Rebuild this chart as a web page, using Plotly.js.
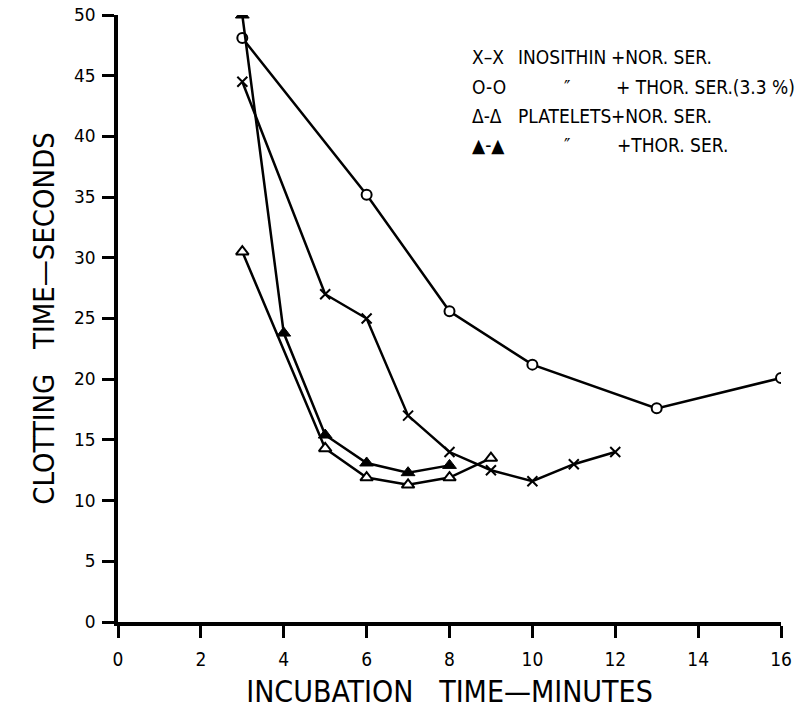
<!DOCTYPE html>
<html>
<head>
<meta charset="utf-8">
<script src="https://cdn.plot.ly/plotly-3.0.1.min.js"></script>
<style>html,body{margin:0;padding:0;background:#fff;}#chart{width:810px;height:709px;}</style>
</head>
<body>
<div id="chart"></div>
<script>
// Incubation time (minutes) and clotting time (seconds)
const inosNorX = [3, 5, 6, 7, 8, 9, 10, 11, 12];
const inosNorY = [44.5, 27, 25, 17, 14, 12.5, 11.6, 13, 14];

const inosThorX = [3, 6, 8, 10, 13, 16];
const inosThorY = [48.1, 35.2, 25.6, 21.2, 17.6, 20.1];

const platNorX = [3, 5, 6, 7, 8, 9];
const platNorY = [30.5, 14.3, 11.9, 11.3, 11.9, 13.5];

const platThorX = [3, 4, 5, 6, 7, 8];
const platThorY = [50, 23.8, 15.4, 13.1, 12.3, 12.9];

const xTicks = [0, 2, 4, 6, 8, 10, 12, 14, 16];
const yTicks = [0, 5, 10, 15, 20, 25, 30, 35, 40, 45, 50];

const legendSymbols = ["X\u2013X", "O-O", "\u0394-\u0394", "\u25B2-\u25B2"];
const legendAgents = ["INOSITHIN", "\u2033", "PLATELETS", "\u2033"];
const legendSera = ["+NOR. SER.", "+ THOR. SER.(3.3 %)", "+NOR. SER.", "+THOR. SER."];

const lineStyle = {color: '#000', width: 2.5};
const font = "'Liberation Sans Narrow', 'DejaVu Sans Condensed', Arial, sans-serif";

const traces = [
  {x: inosThorX, y: inosThorY, mode: 'lines+markers', line: lineStyle,
   marker: {symbol: 'circle', size: 10, color: '#fff', line: {color: '#000', width: 2}}},
  {x: inosNorX, y: inosNorY, mode: 'lines+markers', line: lineStyle,
   marker: {symbol: 'x-thin-open', size: 10, color: '#000', line: {color: '#000', width: 2}}},
  {x: platThorX, y: platThorY, mode: 'lines+markers', line: lineStyle,
   marker: {symbol: 'triangle-up', size: 12, color: '#000', line: {color: '#000', width: 1}}},
  {x: platNorX, y: platNorY, mode: 'lines+markers', line: lineStyle,
   marker: {symbol: 'triangle-up', size: 11, color: '#fff', line: {color: '#000', width: 2}}}
];

const annotations = [];
const rowY = [46.5, 44.1, 41.7, 39.3];
const agentX = [9.6, 10.72, 9.6, 10.72];
const seraX = [11.85, 11.98, 11.85, 12.0];
for (let i = 0; i < 4; i++) {
  annotations.push({x: 8.49, y: rowY[i], xref: 'x', yref: 'y', text: legendSymbols[i], showarrow: false,
    xanchor: 'left', font: {family: font, size: 19, color: '#000'}});
  annotations.push({x: agentX[i], y: rowY[i], xref: 'x', yref: 'y', text: legendAgents[i], showarrow: false,
    xanchor: 'left', font: {family: font, size: 19, color: '#000'}});
  annotations.push({x: seraX[i], y: rowY[i], xref: 'x', yref: 'y', text: legendSera[i], showarrow: false,
    xanchor: 'left', font: {family: font, size: 19, color: '#000'}});
}

const layout = {
  width: 810, height: 709,
  margin: {l: 118, r: 29, t: 15, b: 87},
  paper_bgcolor: '#fff', plot_bgcolor: '#fff',
  showlegend: false,
  xaxis: {
    range: [0, 16], tickvals: xTicks, ticktext: xTicks.map(String),
    showgrid: false, zeroline: false, showline: true, linecolor: '#000', linewidth: 4,
    ticks: 'outside', ticklen: 12, tickwidth: 3, tickcolor: '#000', ticklabelstandoff: 5,
    tickfont: {family: font, size: 19, color: '#000'},
    title: {text: 'INCUBATION&nbsp;&nbsp;&nbsp;TIME\u2014MINUTES', font: {family: font, size: 30, color: '#000'}, standoff: 14}
  },
  yaxis: {
    range: [0, 50], tickvals: yTicks, ticktext: yTicks.map(String),
    showgrid: false, zeroline: false, showline: true, linecolor: '#000', linewidth: 4,
    ticks: 'outside', ticklen: 12, tickwidth: 3, tickcolor: '#000', ticklabelstandoff: 3,
    tickfont: {family: "'DejaVu Sans', sans-serif", size: 17, color: '#000'},
    title: {text: 'CLOTTING&nbsp;&nbsp;&nbsp;TIME\u2014SECONDS', font: {family: font, size: 29, color: '#000'}, standoff: 12}
  },
  annotations: annotations
};

Plotly.newPlot('chart', traces, layout, {displayModeBar: false, staticPlot: true});
</script>
</body>
</html>
